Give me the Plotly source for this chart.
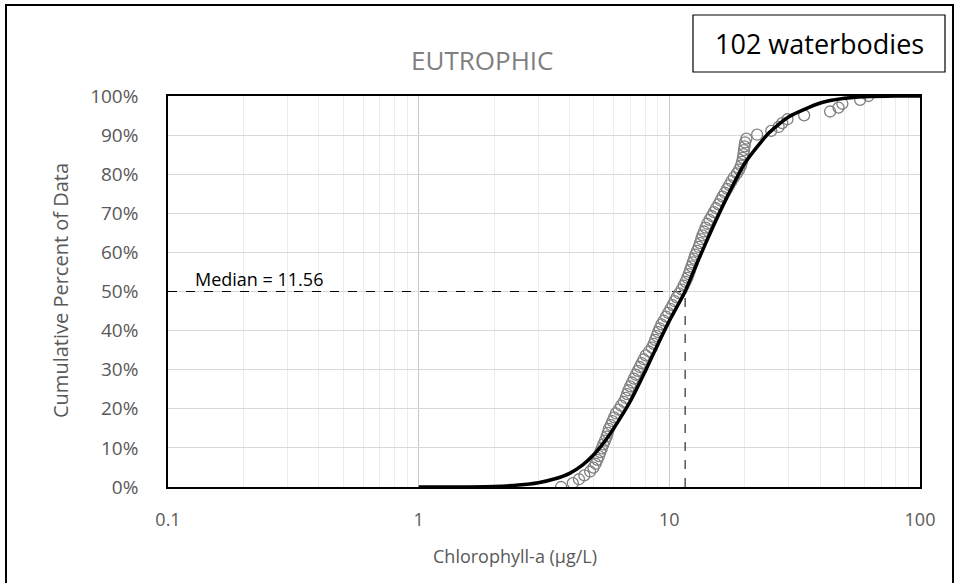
import plotly.graph_objects as go

# ---------------- data ----------------
chl_sorted = [3.70, 4.12, 4.36, 4.58, 4.83, 4.98, 5.08, 5.16, 5.24, 5.30,
              5.38, 5.45, 5.54, 5.62, 5.68, 5.74, 5.84, 5.93, 6.02, 6.12,
              6.28, 6.42, 6.58, 6.70, 6.78, 6.86, 6.98, 7.10, 7.22, 7.35,
              7.48, 7.62, 7.76, 7.90, 8.05, 8.30, 8.52, 8.66, 8.78, 8.90,
              9.02, 9.15, 9.30, 9.50, 9.70, 9.90, 10.10, 10.30, 10.50, 10.70,
              10.95, 11.20, 11.40, 11.60, 11.80, 11.95, 12.10, 12.25, 12.40, 12.55,
              12.70, 12.90, 13.10, 13.25, 13.40, 13.55, 13.75, 13.95, 14.15, 14.45,
              14.75, 15.05, 15.35, 15.70, 16.00, 16.30, 16.65, 17.00, 17.35, 17.70,
              18.10, 18.60, 19.00, 19.30, 19.50, 19.65, 19.75, 19.85, 19.95, 20.05,
              20.30, 22.40, 25.50, 27.30, 28.20, 29.60, 34.50, 43.80, 47.30, 49.00,
              57.70, 62.30]
cum_pct = [0.00, 0.99, 1.98, 2.97, 3.96, 4.95, 5.94, 6.93, 7.92, 8.91,
           9.90, 10.89, 11.88, 12.87, 13.86, 14.85, 15.84, 16.83, 17.82, 18.81,
           19.80, 20.79, 21.78, 22.77, 23.76, 24.75, 25.74, 26.73, 27.72, 28.71,
           29.70, 30.69, 31.68, 32.67, 33.66, 34.65, 35.64, 36.63, 37.62, 38.61,
           39.60, 40.59, 41.58, 42.57, 43.56, 44.55, 45.54, 46.53, 47.52, 48.51,
           49.50, 50.50, 51.49, 52.48, 53.47, 54.46, 55.45, 56.44, 57.43, 58.42,
           59.41, 60.40, 61.39, 62.38, 63.37, 64.36, 65.35, 66.34, 67.33, 68.32,
           69.31, 70.30, 71.29, 72.28, 73.27, 74.26, 75.25, 76.24, 77.23, 78.22,
           79.21, 80.20, 81.19, 82.18, 83.17, 84.16, 85.15, 86.14, 87.13, 88.12,
           89.11, 90.10, 91.09, 92.08, 93.07, 94.06, 95.05, 96.04, 97.03, 98.02,
           99.01, 100.00]

fit_x = [1, 1.5, 2, 2.5, 3, 3.5, 4, 4.5, 5, 5.5, 6, 7, 8, 9, 10, 11.56,
         13, 15, 17, 20, 25, 30, 40, 50, 60, 80, 100]
fit_y = [0, 0.03, 0.15, 0.5, 1.1, 2.1, 3.5, 5.6, 8.3, 11.5, 15.0, 22.0, 29.5,
         36.5, 42.5, 50, 57.8, 66.8, 74.2, 82.8, 90.6, 94.7, 98.2, 99.4, 99.8,
         100, 100]

median_value = 11.56
median_pct = 50
x_axis_min = 0.1

x_tick_vals = [0.1, 1, 10, 100]
x_tick_text = ["0.1", "1", "10", "100"]
x_minor_vals = [0.2, 0.3, 0.4, 0.5, 0.6, 0.7, 0.8, 0.9,
                2, 3, 4, 5, 6, 7, 8, 9,
                20, 30, 40, 50, 60, 70, 80, 90]
y_tick_vals = [0, 10, 20, 30, 40, 50, 60, 70, 80, 90, 100]
y_tick_text = ["0%", "10%", "20%", "30%", "40%", "50%", "60%", "70%", "80%", "90%", "100%"]

# ---------------- layout geometry ----------------
W, H = 956, 583
L, R, T, B = 168, 36, 96, 96
PW, PH = W - L - R, H - T - B


def px(xp):
    return (xp - L) / PW


def py(yp):
    return (H - B - yp) / PH


FONT = "Open Sans"
GRAY = "#595959"

fig = go.Figure()

# median guide lines
fig.add_trace(go.Scatter(x=[x_axis_min, median_value], y=[median_pct, median_pct],
                         mode="lines", line=dict(color="black", width=1, dash="dash"),
                         hoverinfo="skip", showlegend=False))
fig.add_trace(go.Scatter(x=[median_value, median_value], y=[0, median_pct],
                         mode="lines", line=dict(color="black", width=1, dash="dash"),
                         hoverinfo="skip", showlegend=False))

# observed data
fig.add_trace(go.Scatter(x=chl_sorted, y=cum_pct, mode="markers",
                         marker=dict(symbol="circle-open", size=11,
                                     color="#808080", line=dict(width=1.3, color="#808080")),
                         showlegend=False))

# fitted curve
fig.add_trace(go.Scatter(x=fit_x, y=fit_y, mode="lines",
                         line=dict(color="black", width=3.5, shape="spline", smoothing=0.6),
                         showlegend=False))

fig.update_layout(
    width=W, height=H,
    margin=dict(l=L, r=R, t=T, b=B),
    paper_bgcolor="white", plot_bgcolor="white",
    font=dict(family=FONT, color=GRAY),
    xaxis=dict(type="log", range=[-1, 2], tickmode="array",
               tickvals=x_tick_vals, ticktext=x_tick_text,
               tickfont=dict(size=18, color=GRAY), ticks="", ticklabelstandoff=16,
               showgrid=True, gridcolor="#c8c8c8", gridwidth=1,
               minor=dict(tickmode="array", tickvals=x_minor_vals, showgrid=True,
                          gridcolor="#ececec", gridwidth=1, ticks=""),
               showline=True, linecolor="black", linewidth=1.5, mirror=True,
               zeroline=False, fixedrange=True),
    yaxis=dict(range=[0, 100], tickmode="array", tickvals=y_tick_vals, ticktext=y_tick_text,
               tickfont=dict(size=19, color=GRAY), ticks="", ticklabelstandoff=24,
               showgrid=True, gridcolor="#d9d9d9", gridwidth=1,
               showline=True, linecolor="black", linewidth=1.5, mirror=True,
               zeroline=False, fixedrange=True),
    shapes=[
        # outer chart border
        dict(type="rect", xref="paper", yref="paper",
             x0=px(6), x1=px(953), y0=py(590), y1=py(5),
             line=dict(color="black", width=2), fillcolor="rgba(0,0,0,0)", layer="below"),
        # count box
        dict(type="rect", xref="paper", yref="paper",
             x0=px(693), x1=px(945), y0=py(72), y1=py(15),
             line=dict(color="black", width=1.2), fillcolor="white"),
    ],
    annotations=[
        dict(text="EUTROPHIC", xref="paper", yref="paper", x=px(482), y=py(60),
             showarrow=False, font=dict(size=26, color="#7f7f7f", family=FONT),
             xanchor="center", yanchor="middle"),
        dict(text="102 waterbodies", xref="paper", yref="paper", x=px(819), y=py(44),
             showarrow=False, font=dict(size=27, color="black", family=FONT),
             xanchor="center", yanchor="middle"),
        dict(text="Median = 11.56", xref="paper", yref="paper", x=px(193), y=py(279),
             showarrow=False, font=dict(size=18, color="black", family=FONT),
             xanchor="left", yanchor="middle"),
        dict(text="Chlorophyll-a (µg/L)", xref="paper", yref="paper", x=px(515), y=py(556),
             showarrow=False, font=dict(size=18, color=GRAY, family=FONT),
             xanchor="center", yanchor="middle"),
        dict(text="Cumulative Percent of Data", xref="paper", yref="paper", x=px(60), y=py(290),
             showarrow=False, font=dict(size=20, color=GRAY, family=FONT), textangle=-90,
             xanchor="center", yanchor="middle"),
    ],
)

fig.write_html("out.html", config={"displayModeBar": False},
               post_script="document.body.style.margin='0';document.body.style.overflow='hidden';")
